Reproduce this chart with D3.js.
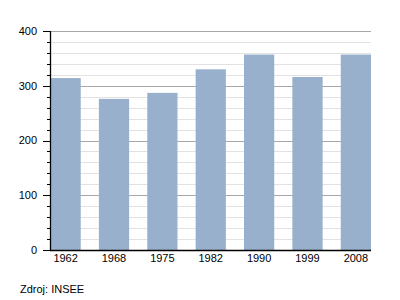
<!DOCTYPE html>
<html><head><meta charset="utf-8">
<script src="https://cdn.jsdelivr.net/npm/d3@7"></script>
<style>body{margin:0;background:#fff}svg{display:block}text{font-family:"Liberation Sans",Arial,sans-serif;fill:#000}</style>
</head><body>
<svg id="c" width="400" height="300"></svg>
<script>
const categories = ["1962","1968","1975","1982","1990","1999","2008"];
const values = [314, 276, 287, 330, 357, 316, 357];
const yMajorTicks = [0,100,200,300,400];
const source = "Zdroj: INSEE";

(function(){
const svg = d3.select("#c");
const pl = 50.5, pr = 371, pt = 31, pb = 250;
const x = d3.scaleBand().domain(categories).range([pl, pr]).paddingInner(0.375).paddingOuter(0);
const y = d3.scaleLinear().domain([0,400]).range([pb, pt]);
const minor = d3.range(0, 401, 20);
const yy = d => Math.round(y(d)) + 0.5;

const g = svg.append("g");
g.selectAll("line.minor").data(minor.filter(v=>v%100!==0)).join("line")
  .attr("x1", pl).attr("x2", pr).attr("y1", yy).attr("y2", yy)
  .attr("stroke", "#e2e2e2").attr("stroke-width",1);
g.selectAll("line.major").data(yMajorTicks.filter(v=>v>0)).join("line")
  .attr("x1", pl).attr("x2", pr).attr("y1", yy).attr("y2", yy)
  .attr("stroke", "#a8a8a8").attr("stroke-width",1);

svg.selectAll("rect.bar").data(values).join("rect")
  .attr("x", (d,i)=>x(categories[i])).attr("width", x.bandwidth())
  .attr("y", d=>y(d)).attr("height", d=>pb - y(d))
  .attr("fill", "#98b0cb");

svg.selectAll("line.mt").data(minor).join("line")
  .attr("x1", 47).attr("x2", 50).attr("y1", yy).attr("y2", yy)
  .attr("stroke", "#000");
svg.selectAll("line.Mt").data(yMajorTicks).join("line")
  .attr("x1", 43).attr("x2", 50).attr("y1", yy).attr("y2", yy)
  .attr("stroke", "#000");
svg.selectAll("text.yl").data(yMajorTicks).join("text")
  .attr("x", 37).attr("y", d=>y(d)).attr("dy","0.35em").attr("text-anchor","end")
  .attr("font-size", 11).text(d=>d);

svg.append("line").attr("x1",50.5).attr("x2",50.5).attr("y1",pt).attr("y2",pb+1).attr("stroke","#000").attr("stroke-width",1.3);
svg.append("line").attr("x1",50).attr("x2",pr).attr("y1",pb+0.5).attr("y2",pb+0.5).attr("stroke","#000").attr("stroke-width",1.3);

svg.selectAll("text.xl").data(categories).join("text")
  .attr("x", d=>x(d)+x.bandwidth()/2).attr("y", 258).attr("dy","0.35em").attr("text-anchor","middle")
  .attr("font-size", 11).text(d=>d);

svg.append("text").attr("x", 20).attr("y", 289).attr("dy","0.35em").attr("font-size", 11).text(source);
})();
</script>
</body></html>
